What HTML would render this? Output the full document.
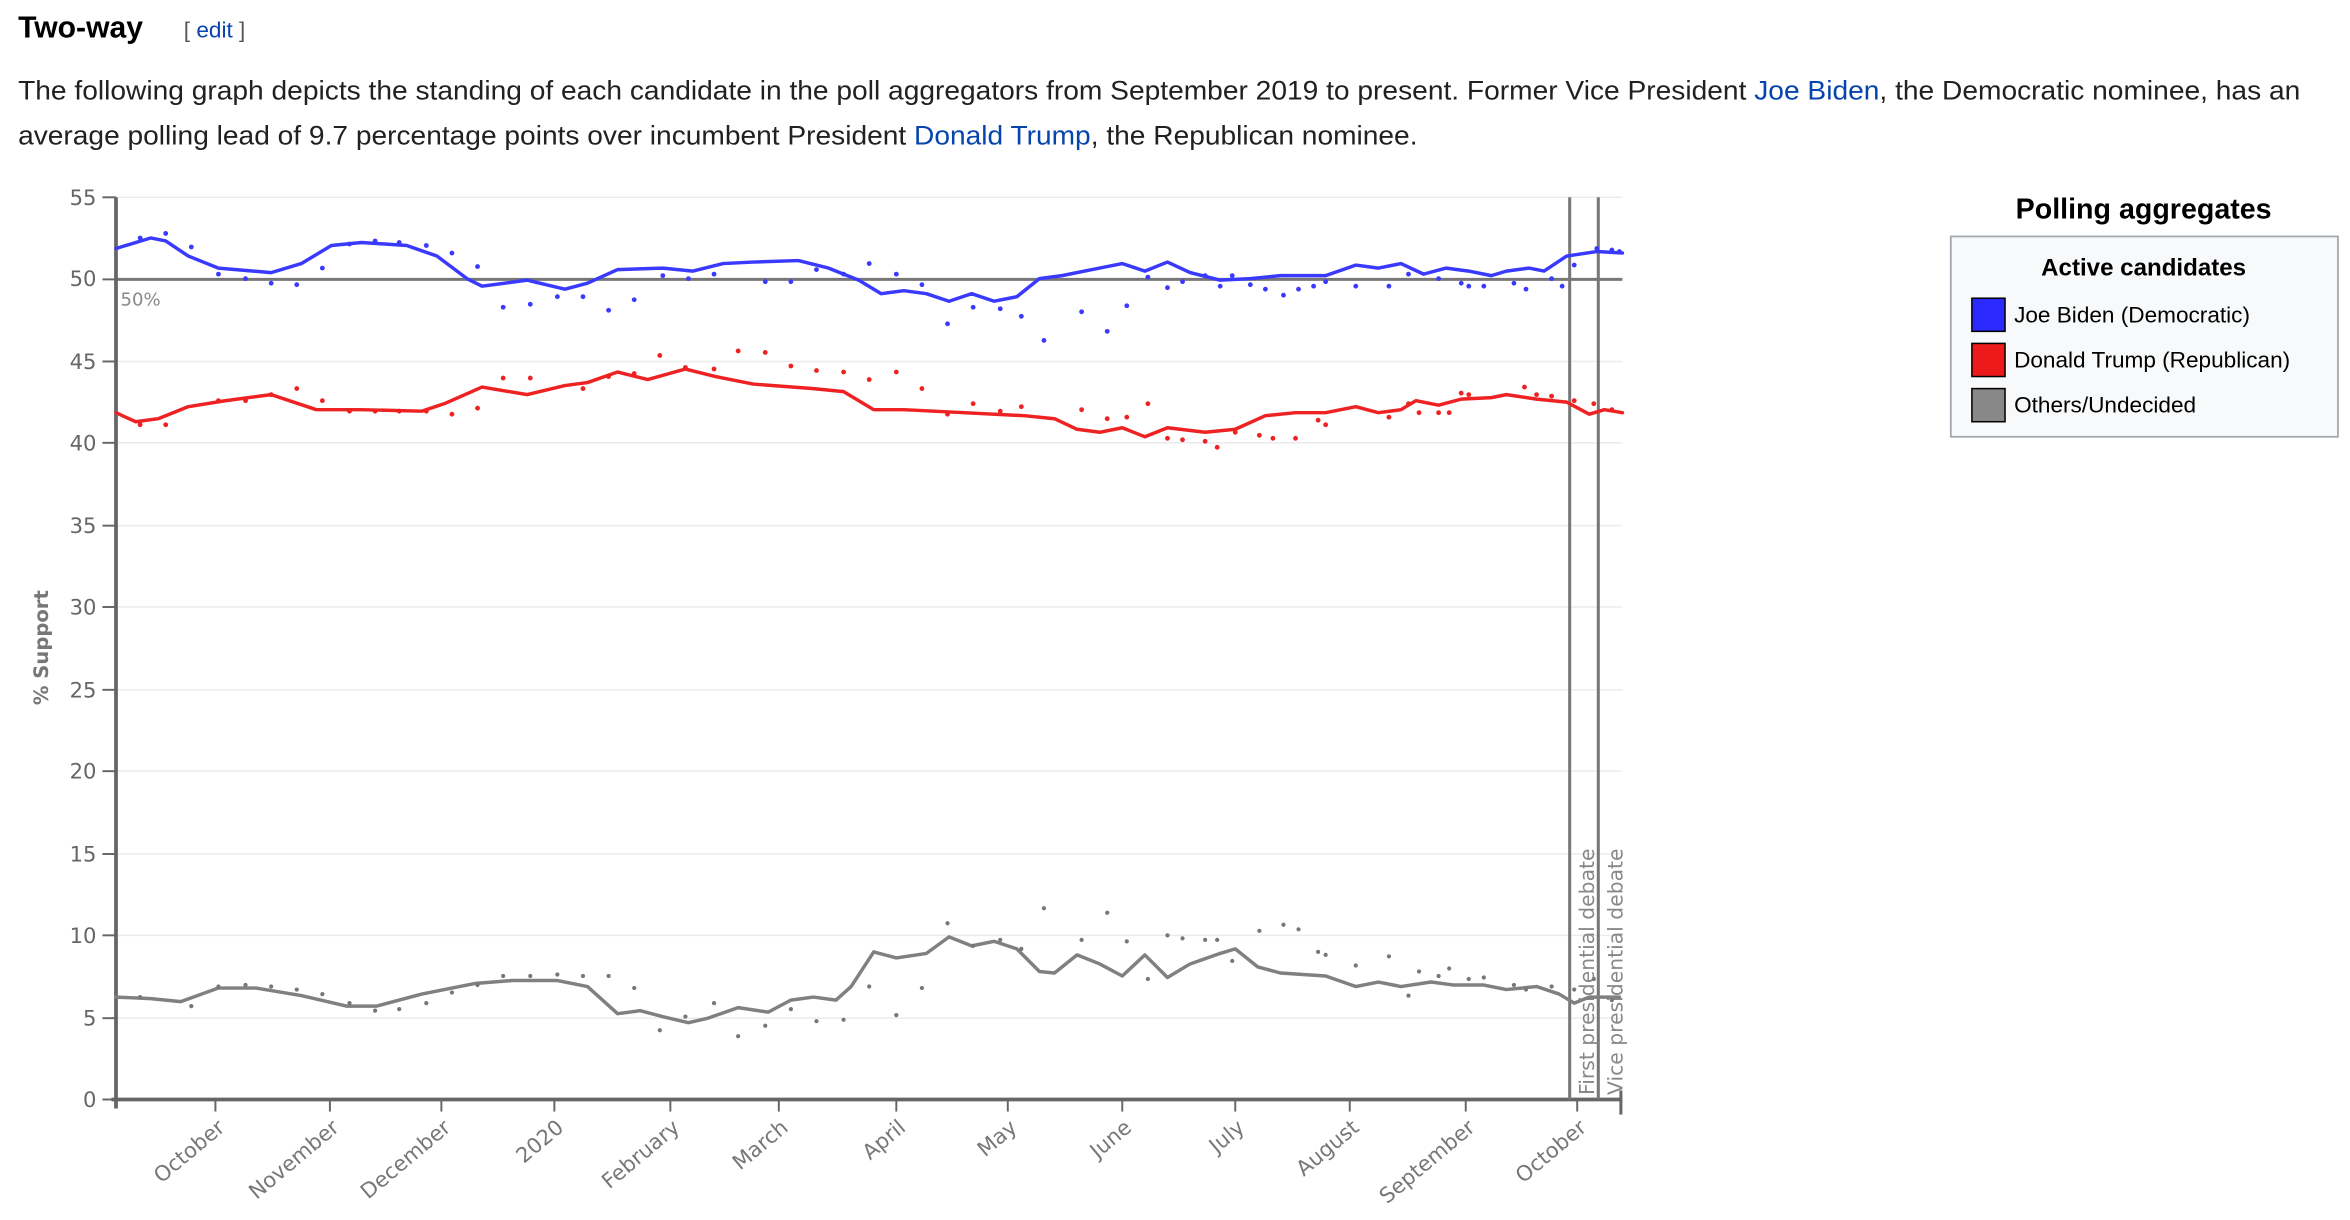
<!DOCTYPE html>
<html><head><meta charset="utf-8"><style>
html,body{margin:0;padding:0;background:#fff;width:2350px;height:1220px;overflow:hidden}
svg{display:block}
</style></head><body>
<svg width="2350" height="1220" viewBox="0 0 1560 810" preserveAspectRatio="none" xmlns="http://www.w3.org/2000/svg">
<rect width="1560" height="810" fill="#fff"/>
<g font-family="Liberation Sans, Arial, sans-serif">
<text x="12" y="25" font-size="20" font-weight="bold" fill="#000">Two-way</text>
<text x="122" y="25" font-size="15" fill="#54595d">[ <tspan fill="#0645ad">edit</tspan> ]</text>
<text x="12" y="66" font-size="17.5" fill="#202122" textLength="1515" lengthAdjust="spacingAndGlyphs">The following graph depicts the standing of each candidate in the poll aggregators from September 2019 to present. Former Vice President <tspan fill="#0645ad">Joe Biden</tspan>, the Democratic nominee, has an</text>
<text x="12" y="96" font-size="17.5" fill="#202122" textLength="929" lengthAdjust="spacingAndGlyphs">average polling lead of 9.7 percentage points over incumbent President <tspan fill="#0645ad">Donald Trump</tspan>, the Republican nominee.</text>
<text x="1423" y="145" font-size="19" font-weight="bold" text-anchor="middle" fill="#000">Polling aggregates</text>
<rect x="1295" y="157" width="257" height="133" fill="#f8f9fa" stroke="#a2a9b1" stroke-width="1.2"/>
<text x="1423" y="183" font-size="16" font-weight="bold" text-anchor="middle" fill="#000">Active candidates</text>
<rect x="1309" y="198" width="22" height="22" fill="#2a2aff" stroke="#000" stroke-width="1"/>
<rect x="1309" y="228" width="22" height="22" fill="#ec1a1a" stroke="#000" stroke-width="1"/>
<rect x="1309" y="258" width="22" height="22" fill="#888" stroke="#000" stroke-width="1"/>
<text x="1337" y="214" font-size="15" fill="#000">Joe Biden (Democratic)</text>
<text x="1337" y="244" font-size="15" fill="#000">Donald Trump (Republican)</text>
<text x="1337" y="274" font-size="15" fill="#000">Others/Undecided</text>
</g>
<g font-family="DejaVu Sans, sans-serif" fill="#666">
<g stroke="#ececec" stroke-width="1">
<line x1="77" y1="131" x2="1077" y2="131"/><line x1="77" y1="240" x2="1077" y2="240"/><line x1="77" y1="294" x2="1077" y2="294"/><line x1="77" y1="349" x2="1077" y2="349"/><line x1="77" y1="403" x2="1077" y2="403"/><line x1="77" y1="458" x2="1077" y2="458"/><line x1="77" y1="512" x2="1077" y2="512"/><line x1="77" y1="567" x2="1077" y2="567"/><line x1="77" y1="621" x2="1077" y2="621"/><line x1="77" y1="676" x2="1077" y2="676"/>
</g>
<line x1="77" y1="185.5" x2="1077" y2="185.5" stroke="#777" stroke-width="2"/>
<text x="80" y="203" font-size="12" fill="#888">50%</text>
<g font-size="14" text-anchor="end">
<text x="64" y="136">55</text><text x="64" y="190">50</text><text x="64" y="245">45</text><text x="64" y="299">40</text><text x="64" y="354">35</text><text x="64" y="408">30</text><text x="64" y="463">25</text><text x="64" y="517">20</text><text x="64" y="572">15</text><text x="64" y="626">10</text><text x="64" y="681">5</text><text x="64" y="735">0</text>
</g>
<g stroke="#666" stroke-width="1.3">
<line x1="68" y1="131" x2="77" y2="131"/><line x1="68" y1="185.5" x2="77" y2="185.5"/><line x1="68" y1="240" x2="77" y2="240"/><line x1="68" y1="294" x2="77" y2="294"/><line x1="68" y1="349" x2="77" y2="349"/><line x1="68" y1="403" x2="77" y2="403"/><line x1="68" y1="458" x2="77" y2="458"/><line x1="68" y1="512" x2="77" y2="512"/><line x1="68" y1="567" x2="77" y2="567"/><line x1="68" y1="621" x2="77" y2="621"/><line x1="68" y1="676" x2="77" y2="676"/><line x1="68" y1="730" x2="77" y2="730"/>
<line x1="143" y1="730" x2="143" y2="738"/><line x1="219" y1="730" x2="219" y2="738"/><line x1="293" y1="730" x2="293" y2="738"/><line x1="368" y1="730" x2="368" y2="738"/><line x1="445" y1="730" x2="445" y2="738"/><line x1="517" y1="730" x2="517" y2="738"/><line x1="595" y1="730" x2="595" y2="738"/><line x1="669" y1="730" x2="669" y2="738"/><line x1="745" y1="730" x2="745" y2="738"/><line x1="820" y1="730" x2="820" y2="738"/><line x1="896" y1="730" x2="896" y2="738"/><line x1="973" y1="730" x2="973" y2="738"/><line x1="1047" y1="730" x2="1047" y2="738"/>
</g>
<line x1="77" y1="131" x2="77" y2="736" stroke="#666" stroke-width="2.5"/>
<line x1="74" y1="730" x2="1077" y2="730" stroke="#666" stroke-width="2.5"/>
<line x1="1076" y1="724" x2="1076" y2="740" stroke="#666" stroke-width="2"/>
<line x1="1042" y1="131" x2="1042" y2="730" stroke="#777" stroke-width="2"/>
<line x1="1061" y1="131" x2="1061" y2="730" stroke="#777" stroke-width="2"/>
<g font-size="13.5" fill="#888">
<text transform="translate(1058,727) rotate(-90)">First presidential debate</text>
<text transform="translate(1077,727) rotate(-90)">Vice presidential debate</text>
</g>
<text transform="translate(32,430) rotate(-90)" font-size="13" font-weight="bold" text-anchor="middle" fill="#777">% Support</text>
<g font-size="14" text-anchor="end" fill="#777">
<text transform="translate(150,750) rotate(-40)">October</text>
<text transform="translate(226,750) rotate(-40)">November</text>
<text transform="translate(300,750) rotate(-40)">December</text>
<text transform="translate(375,750) rotate(-40)">2020</text>
<text transform="translate(452,750) rotate(-40)">February</text>
<text transform="translate(524,750) rotate(-40)">March</text>
<text transform="translate(602,750) rotate(-40)">April</text>
<text transform="translate(676,750) rotate(-40)">May</text>
<text transform="translate(752,750) rotate(-40)">June</text>
<text transform="translate(827,750) rotate(-40)">July</text>
<text transform="translate(903,750) rotate(-40)">August</text>
<text transform="translate(980,750) rotate(-40)">September</text>
<text transform="translate(1054,750) rotate(-40)">October</text>
</g>
</g>
<g fill="none" stroke-width="2.3" stroke-linejoin="round" stroke-linecap="round">
<polyline stroke="#3a3aff" points="77,165 100,158 110,160 125,170 145,178 180,181 200,175 220,163 240,161 270,163 290,170 310,185 320,190 350,186 375,192 390,188 410,179 440,178 460,180 480,175 500,174 530,173 550,178 570,186 585,195 600,193 615,195 630,200 645,195 660,200 675,197 690,185 705,183 720,180 745,175 760,180 775,174 790,181 810,186 830,185 850,183 880,183 900,176 915,178 930,175 945,182 960,178 975,180 990,183 1000,180 1015,178 1025,180 1040,170 1060,167 1077,168"/>
<polyline stroke="#ee2222" points="77,274 90,280 105,278 125,270 150,266 180,262 210,272 240,272 280,273 295,268 320,257 350,262 375,256 390,254 410,247 430,252 455,245 475,250 500,255 540,258 560,260 580,272 600,272 640,274 680,276 700,278 715,285 730,287 745,284 760,290 775,284 800,287 820,285 840,276 860,274 880,274 900,270 915,274 930,272 940,266 955,269 970,265 990,264 1000,262 1020,265 1040,267 1055,275 1065,272 1077,274"/>
<polyline stroke="#808080" points="77,662 100,663 120,665 145,656 170,656 200,661 230,668 250,668 280,660 315,653 340,651 370,651 390,655 410,673 425,671 440,675 457,679 470,676 490,669 510,672 525,664 540,662 555,664 565,655 580,632 595,636 615,633 630,622 645,628 660,625 675,630 690,645 700,646 715,634 730,640 745,648 760,634 775,649 790,640 810,633 820,630 835,642 850,646 880,648 900,655 915,652 930,655 950,652 965,654 985,654 1000,657 1020,655 1035,660 1045,666 1055,662 1075,662"/>
</g>
<g fill="#3a3aff">
<circle cx="93" cy="158" r="1.6"/><circle cx="110" cy="155" r="1.6"/><circle cx="127" cy="164" r="1.6"/><circle cx="145" cy="182" r="1.6"/><circle cx="163" cy="185" r="1.6"/><circle cx="180" cy="188" r="1.6"/><circle cx="197" cy="189" r="1.6"/><circle cx="214" cy="178" r="1.6"/><circle cx="232" cy="162" r="1.6"/><circle cx="249" cy="160" r="1.6"/><circle cx="265" cy="161" r="1.6"/><circle cx="283" cy="163" r="1.6"/><circle cx="300" cy="168" r="1.6"/><circle cx="317" cy="177" r="1.6"/><circle cx="334" cy="204" r="1.6"/><circle cx="352" cy="202" r="1.6"/><circle cx="370" cy="197" r="1.6"/><circle cx="387" cy="197" r="1.6"/><circle cx="404" cy="206" r="1.6"/><circle cx="421" cy="199" r="1.6"/><circle cx="440" cy="183" r="1.6"/><circle cx="457" cy="185" r="1.6"/><circle cx="474" cy="182" r="1.6"/><circle cx="508" cy="187" r="1.6"/><circle cx="525" cy="187" r="1.6"/><circle cx="542" cy="179" r="1.6"/><circle cx="560" cy="182" r="1.6"/><circle cx="577" cy="175" r="1.6"/><circle cx="595" cy="182" r="1.6"/><circle cx="612" cy="189" r="1.6"/><circle cx="629" cy="215" r="1.6"/><circle cx="646" cy="204" r="1.6"/><circle cx="664" cy="205" r="1.6"/><circle cx="678" cy="210" r="1.6"/><circle cx="693" cy="226" r="1.6"/><circle cx="718" cy="207" r="1.6"/><circle cx="735" cy="220" r="1.6"/><circle cx="748" cy="203" r="1.6"/><circle cx="762" cy="184" r="1.6"/><circle cx="775" cy="191" r="1.6"/><circle cx="785" cy="187" r="1.6"/><circle cx="800" cy="183" r="1.6"/><circle cx="810" cy="190" r="1.6"/><circle cx="818" cy="183" r="1.6"/><circle cx="830" cy="189" r="1.6"/><circle cx="840" cy="192" r="1.6"/><circle cx="852" cy="196" r="1.6"/><circle cx="862" cy="192" r="1.6"/><circle cx="872" cy="190" r="1.6"/><circle cx="880" cy="187" r="1.6"/><circle cx="900" cy="190" r="1.6"/><circle cx="922" cy="190" r="1.6"/><circle cx="935" cy="182" r="1.6"/><circle cx="955" cy="185" r="1.6"/><circle cx="970" cy="188" r="1.6"/><circle cx="975" cy="190" r="1.6"/><circle cx="985" cy="190" r="1.6"/><circle cx="1005" cy="188" r="1.6"/><circle cx="1013" cy="192" r="1.6"/><circle cx="1030" cy="185" r="1.6"/><circle cx="1037" cy="190" r="1.6"/><circle cx="1045" cy="176" r="1.6"/><circle cx="1060" cy="165" r="1.6"/><circle cx="1070" cy="166" r="1.6"/><circle cx="1075" cy="167" r="1.6"/>
</g>
<g fill="#ee2222">
<circle cx="93" cy="282" r="1.6"/><circle cx="110" cy="282" r="1.6"/><circle cx="145" cy="266" r="1.6"/><circle cx="163" cy="266" r="1.6"/><circle cx="180" cy="262" r="1.6"/><circle cx="197" cy="258" r="1.6"/><circle cx="214" cy="266" r="1.6"/><circle cx="232" cy="273" r="1.6"/><circle cx="249" cy="273" r="1.6"/><circle cx="265" cy="273" r="1.6"/><circle cx="283" cy="273" r="1.6"/><circle cx="300" cy="275" r="1.6"/><circle cx="317" cy="271" r="1.6"/><circle cx="334" cy="251" r="1.6"/><circle cx="352" cy="251" r="1.6"/><circle cx="387" cy="258" r="1.6"/><circle cx="404" cy="250" r="1.6"/><circle cx="421" cy="248" r="1.6"/><circle cx="438" cy="236" r="1.6"/><circle cx="455" cy="244" r="1.6"/><circle cx="474" cy="245" r="1.6"/><circle cx="490" cy="233" r="1.6"/><circle cx="508" cy="234" r="1.6"/><circle cx="525" cy="243" r="1.6"/><circle cx="542" cy="246" r="1.6"/><circle cx="560" cy="247" r="1.6"/><circle cx="577" cy="252" r="1.6"/><circle cx="595" cy="247" r="1.6"/><circle cx="612" cy="258" r="1.6"/><circle cx="629" cy="275" r="1.6"/><circle cx="646" cy="268" r="1.6"/><circle cx="664" cy="273" r="1.6"/><circle cx="678" cy="270" r="1.6"/><circle cx="718" cy="272" r="1.6"/><circle cx="735" cy="278" r="1.6"/><circle cx="748" cy="277" r="1.6"/><circle cx="762" cy="268" r="1.6"/><circle cx="775" cy="291" r="1.6"/><circle cx="785" cy="292" r="1.6"/><circle cx="800" cy="293" r="1.6"/><circle cx="808" cy="297" r="1.6"/><circle cx="820" cy="287" r="1.6"/><circle cx="836" cy="289" r="1.6"/><circle cx="845" cy="291" r="1.6"/><circle cx="860" cy="291" r="1.6"/><circle cx="875" cy="279" r="1.6"/><circle cx="880" cy="282" r="1.6"/><circle cx="922" cy="277" r="1.6"/><circle cx="935" cy="268" r="1.6"/><circle cx="942" cy="274" r="1.6"/><circle cx="955" cy="274" r="1.6"/><circle cx="962" cy="274" r="1.6"/><circle cx="970" cy="261" r="1.6"/><circle cx="975" cy="262" r="1.6"/><circle cx="1012" cy="257" r="1.6"/><circle cx="1020" cy="262" r="1.6"/><circle cx="1030" cy="263" r="1.6"/><circle cx="1045" cy="266" r="1.6"/><circle cx="1058" cy="268" r="1.6"/><circle cx="1070" cy="272" r="1.6"/>
</g>
<g fill="#777">
<circle cx="93" cy="662" r="1.4"/><circle cx="127" cy="668" r="1.4"/><circle cx="145" cy="655" r="1.4"/><circle cx="163" cy="654" r="1.4"/><circle cx="180" cy="655" r="1.4"/><circle cx="197" cy="657" r="1.4"/><circle cx="214" cy="660" r="1.4"/><circle cx="232" cy="666" r="1.4"/><circle cx="249" cy="671" r="1.4"/><circle cx="265" cy="670" r="1.4"/><circle cx="283" cy="666" r="1.4"/><circle cx="300" cy="659" r="1.4"/><circle cx="317" cy="654" r="1.4"/><circle cx="334" cy="648" r="1.4"/><circle cx="352" cy="648" r="1.4"/><circle cx="370" cy="647" r="1.4"/><circle cx="387" cy="648" r="1.4"/><circle cx="404" cy="648" r="1.4"/><circle cx="421" cy="656" r="1.4"/><circle cx="438" cy="684" r="1.4"/><circle cx="455" cy="675" r="1.4"/><circle cx="474" cy="666" r="1.4"/><circle cx="490" cy="688" r="1.4"/><circle cx="508" cy="681" r="1.4"/><circle cx="525" cy="670" r="1.4"/><circle cx="542" cy="678" r="1.4"/><circle cx="560" cy="677" r="1.4"/><circle cx="577" cy="655" r="1.4"/><circle cx="595" cy="674" r="1.4"/><circle cx="612" cy="656" r="1.4"/><circle cx="629" cy="613" r="1.4"/><circle cx="646" cy="628" r="1.4"/><circle cx="664" cy="624" r="1.4"/><circle cx="678" cy="630" r="1.4"/><circle cx="693" cy="603" r="1.4"/><circle cx="718" cy="624" r="1.4"/><circle cx="735" cy="606" r="1.4"/><circle cx="748" cy="625" r="1.4"/><circle cx="762" cy="650" r="1.4"/><circle cx="775" cy="621" r="1.4"/><circle cx="785" cy="623" r="1.4"/><circle cx="800" cy="624" r="1.4"/><circle cx="808" cy="624" r="1.4"/><circle cx="818" cy="638" r="1.4"/><circle cx="836" cy="618" r="1.4"/><circle cx="852" cy="614" r="1.4"/><circle cx="862" cy="617" r="1.4"/><circle cx="875" cy="632" r="1.4"/><circle cx="880" cy="634" r="1.4"/><circle cx="900" cy="641" r="1.4"/><circle cx="922" cy="635" r="1.4"/><circle cx="935" cy="661" r="1.4"/><circle cx="942" cy="645" r="1.4"/><circle cx="955" cy="648" r="1.4"/><circle cx="962" cy="643" r="1.4"/><circle cx="975" cy="650" r="1.4"/><circle cx="985" cy="649" r="1.4"/><circle cx="1005" cy="654" r="1.4"/><circle cx="1013" cy="657" r="1.4"/><circle cx="1030" cy="655" r="1.4"/><circle cx="1045" cy="657" r="1.4"/><circle cx="1058" cy="650" r="1.4"/><circle cx="1070" cy="664" r="1.4"/>
</g>
</svg>
</body></html>
